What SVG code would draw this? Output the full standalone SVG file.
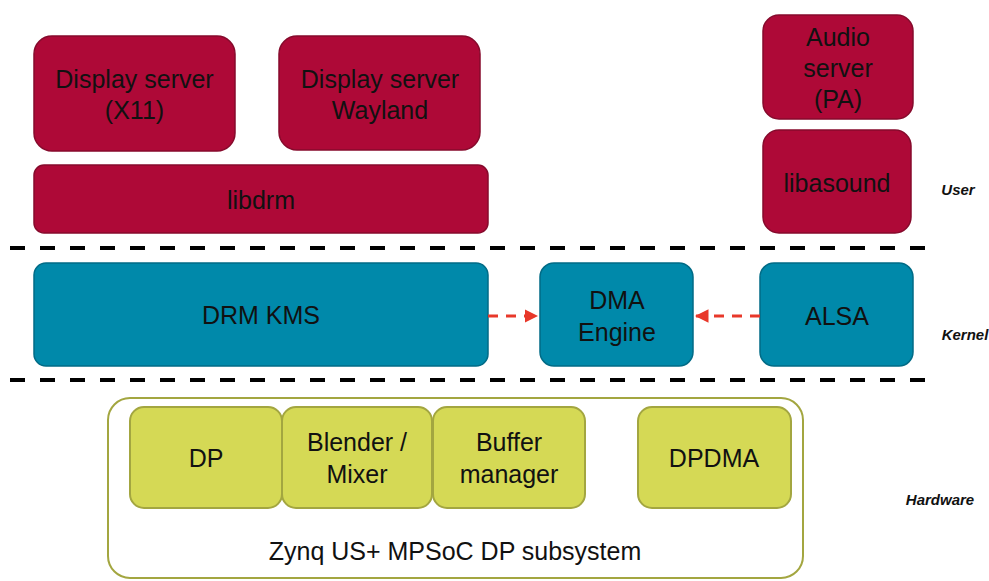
<svg xmlns="http://www.w3.org/2000/svg" width="989" height="581" viewBox="0 0 989 581">
<defs>
<style>
.u{fill:#ae0937;stroke:#860a2c;stroke-width:1.5}
.k{fill:#0089aa;stroke:#006b86;stroke-width:1.5}
.h{fill:#d5d955;stroke:#a3a640;stroke-width:2}
.t{font-family:"Liberation Sans",Arial,sans-serif;font-size:25px;fill:#111;text-anchor:middle}
.l{font-family:"Liberation Sans",Arial,sans-serif;font-size:15px;font-weight:bold;font-style:italic;fill:#111;text-anchor:middle}
.sep{stroke:#000;stroke-width:4;stroke-dasharray:15 15}
.arr{stroke:#e8382a;stroke-width:3;stroke-dasharray:10 8;fill:none}
</style>
<marker id="ah" viewBox="0 0 10 10" refX="10" refY="5" markerWidth="4.5" markerHeight="4.5" orient="auto" markerUnits="strokeWidth">
<path d="M0,0 L10,5 L0,10 z" fill="#e8382a"/>
</marker>
</defs>
<rect width="989" height="581" fill="#fff"/>
<g id="separators">
<line class="sep" x1="10" y1="248" x2="930" y2="248"/>
<line class="sep" x1="10" y1="380" x2="930" y2="380"/>
</g>
<g id="x11"><rect class="u" x="34" y="36" width="201" height="115" rx="18"/><text class="t" x="134.5" y="88">Display server</text><text class="t" x="134.5" y="119">(X11)</text></g>
<g id="wayland"><rect class="u" x="279" y="36" width="201" height="114" rx="18"/><text class="t" x="380" y="88">Display server</text><text class="t" x="380" y="119">Wayland</text></g>
<g id="libdrm"><rect class="u" x="34" y="165" width="454" height="68" rx="10"/><text class="t" x="261" y="209">libdrm</text></g>
<g id="audio"><rect class="u" x="763" y="15" width="150" height="104" rx="16"/><text class="t" x="838" y="46">Audio</text><text class="t" x="838" y="77">server</text><text class="t" x="838" y="108">(PA)</text></g>
<g id="libasound"><rect class="u" x="763" y="130" width="148" height="103" rx="16"/><text class="t" x="837" y="192">libasound</text></g>
<g id="drmkms"><rect class="k" x="34" y="263" width="454" height="103" rx="12"/><text class="t" x="261" y="324">DRM KMS</text></g>
<g id="dma"><rect class="k" x="540" y="263" width="153" height="103" rx="14"/><text class="t" x="617" y="309">DMA</text><text class="t" x="617" y="341">Engine</text></g>
<g id="alsa"><rect class="k" x="760" y="263" width="153" height="103" rx="14"/><text class="t" x="837" y="325">ALSA</text></g>
<g id="subsystem"><rect x="108" y="398" width="695" height="180" rx="22" fill="#fff" stroke="#a3a640" stroke-width="2"/><text class="t" x="455" y="560">Zynq US+ MPSoC DP subsystem</text></g>
<g id="dp"><rect class="h" x="130" y="407" width="152" height="101" rx="14"/><text class="t" x="206" y="467">DP</text></g>
<g id="blender"><rect class="h" x="282" y="407" width="150" height="101" rx="14"/><text class="t" x="357" y="451">Blender /</text><text class="t" x="357" y="483">Mixer</text></g>
<g id="buffer"><rect class="h" x="433" y="407" width="152" height="101" rx="14"/><text class="t" x="509" y="451">Buffer</text><text class="t" x="509" y="483">manager</text></g>
<g id="dpdma"><rect class="h" x="638" y="407" width="153" height="101" rx="14"/><text class="t" x="714" y="467">DPDMA</text></g>
<g id="labels"><text class="l" x="958" y="195">User</text><text class="l" x="965" y="340">Kernel</text><text class="l" x="940" y="505">Hardware</text></g>
<g id="connectors">
<path class="arr" d="M488,316 L538,316" marker-end="url(#ah)"/>
<path class="arr" d="M760,316 L695,316" marker-end="url(#ah)"/>
</g>
</svg>
